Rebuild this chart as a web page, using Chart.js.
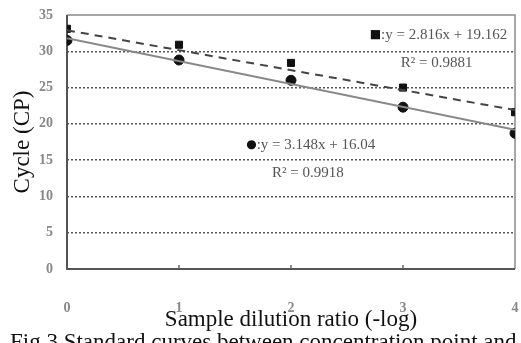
<!DOCTYPE html>
<html>
<head>
<meta charset="utf-8">
<script src="https://cdn.jsdelivr.net/npm/chart.js@4/dist/chart.umd.min.js"></script>
<style>
html,body{margin:0;padding:0;background:#fff;}
#wrap{width:521px;height:343px;overflow:hidden;position:relative;}
</style>
</head>
<body>
<div id="wrap"><canvas id="c" width="521" height="343"></canvas></div>
<script>
const dilution = [0, 1, 2, 3, 4];
const squareCP = [33.1, 30.9, 28.4, 25.0, 21.6];
const circleCP = [31.5, 28.8, 26.0, 22.3, 18.7];
const squareFitX = [0, 4];
const squareFitY = [32.9, 21.9];
const circleFitX = [0, 4];
const circleFitY = [31.8, 19.2];
const yTicks = [0, 5, 10, 15, 20, 25, 30, 35];
const xTicks = [0, 1, 2, 3, 4];
const annotations = [
  {mark: "\u25A0", text: ":y = 2.816x + 19.162", x: 3.93, y: 32.2, align: "right"},
  {mark: "", text: "R\u00B2 = 0.9881", x: 3.30, y: 28.4, align: "center"},
  {mark: "\u25CF", text: ":y = 3.148x + 16.04", x: 1.60, y: 17.1, align: "left"},
  {mark: "", text: "R\u00B2 = 0.9918", x: 2.15, y: 13.2, align: "center"}
];
const caption = "Fig.3 Standard curves between concentration point and dilution";

const pts = (xs, ys) => xs.map((x, i) => ({x: x, y: ys[i]}));

const extras = {
  id: 'extras',
  beforeDatasetsDraw(chart) {
    const {ctx, chartArea: a} = chart;
    ctx.save();
    ctx.strokeStyle = '#8a8a8a';
    ctx.lineWidth = 1.5;
    ctx.beginPath();
    ctx.moveTo(a.left, a.top); ctx.lineTo(a.right, a.top); ctx.lineTo(a.right, a.bottom);
    ctx.stroke();
    ctx.strokeStyle = '#555';
    ctx.lineWidth = 2;
    ctx.beginPath();
    ctx.moveTo(a.left, a.top); ctx.lineTo(a.left, a.bottom); ctx.lineTo(a.right, a.bottom);
    ctx.stroke();
    const xs = chart.scales.x;
    ctx.lineWidth = 1.5;
    ctx.strokeStyle = '#666';
    xTicks.slice(1, -1).forEach(v => {
      const px = xs.getPixelForValue(v);
      ctx.beginPath(); ctx.moveTo(px, a.bottom - 4); ctx.lineTo(px, a.bottom); ctx.stroke();
    });
    ctx.restore();
  },
  afterDraw(chart) {
    const {ctx} = chart;
    const xs = chart.scales.x, ys = chart.scales.y;
    ctx.save();
    ctx.textBaseline = 'middle';
    annotations.forEach(an => {
      const px = xs.getPixelForValue(an.x), py = ys.getPixelForValue(an.y);
      ctx.font = '15px "Liberation Serif"';
      const tw = ctx.measureText(an.text).width;
      ctx.font = '12px "DejaVu Sans"';
      const mw = an.mark ? ctx.measureText(an.mark).width : 0;
      const total = tw + mw;
      let start = an.align === 'right' ? px - total : an.align === 'center' ? px - total / 2 : px;
      ctx.textAlign = 'left';
      if (an.mark) {
        ctx.fillStyle = '#111';
        ctx.fillText(an.mark, start, py);
      }
      ctx.font = '15px "Liberation Serif"';
      ctx.fillStyle = '#555';
      ctx.fillText(an.text, start + mw, py);
    });
    ctx.font = '23px "Liberation Serif"';
    ctx.fillStyle = '#111';
    ctx.textAlign = 'left';
    ctx.textBaseline = 'top';
    ctx.fillText(caption, 10, 331);
    ctx.restore();
  }
};

new Chart(document.getElementById('c'), {
  type: 'scatter',
  data: {
    datasets: [
      {label: 'square fit', type: 'line', data: pts(squareFitX, squareFitY), borderColor: '#444', borderWidth: 2, borderDash: [8, 6], pointRadius: 0, fill: false},
      {label: 'circle fit', type: 'line', data: pts(circleFitX, circleFitY), borderColor: '#888', borderWidth: 2, pointRadius: 0, fill: false},
      {label: 'square', data: pts(dilution, squareCP), pointStyle: 'rect', pointRadius: 5, backgroundColor: '#111', borderColor: '#111'},
      {label: 'circle', data: pts(dilution, circleCP), pointStyle: 'circle', pointRadius: 5, backgroundColor: '#111', borderColor: '#111'}
    ]
  },
  options: {
    responsive: false,
    animation: false,
    layout: {padding: {left: 0, right: 6, top: 15, bottom: 0}},
    plugins: {legend: {display: false}, tooltip: {enabled: false}},
    scales: {
      x: {
        type: 'linear', min: 0, max: 4,
        afterFit(s) { s.height = 74; s.paddingLeft = 0; s.paddingRight = 0; },
        afterBuildTicks(s) { s.ticks = xTicks.map(v => ({value: v})); },
        grid: {display: false, drawTicks: false},
        border: {display: false},
        ticks: {padding: 31, color: '#888', font: {family: 'Liberation Serif', size: 14, weight: 'bold'}},
        title: {display: true, text: 'Sample dilution ratio (-log)', color: '#111', font: {family: 'Liberation Serif', size: 23}, padding: {top: 0, bottom: 9}}
      },
      y: {
        min: 0, max: 35,
        afterFit(s) { s.width = 67; s.paddingTop = 0; s.paddingBottom = 0; },
        afterBuildTicks(s) { s.ticks = yTicks.map(v => ({value: v})); },
        grid: {
          drawTicks: false,
          color: ctx => (ctx.tick.value === 0 || ctx.tick.value === 35) ? 'rgba(0,0,0,0)' : '#555',
          lineWidth: 1.5
        },
        border: {display: false, dash: [2, 2]},
        ticks: {padding: 14, color: '#888', font: {family: 'Liberation Serif', size: 14, weight: 'bold'}},
        title: {display: true, text: 'Cycle (CP)', color: '#111', font: {family: 'Liberation Serif', size: 23}, padding: {top: 9, bottom: 0}}
      }
    }
  },
  plugins: [extras]
});
</script>
</body>
</html>
